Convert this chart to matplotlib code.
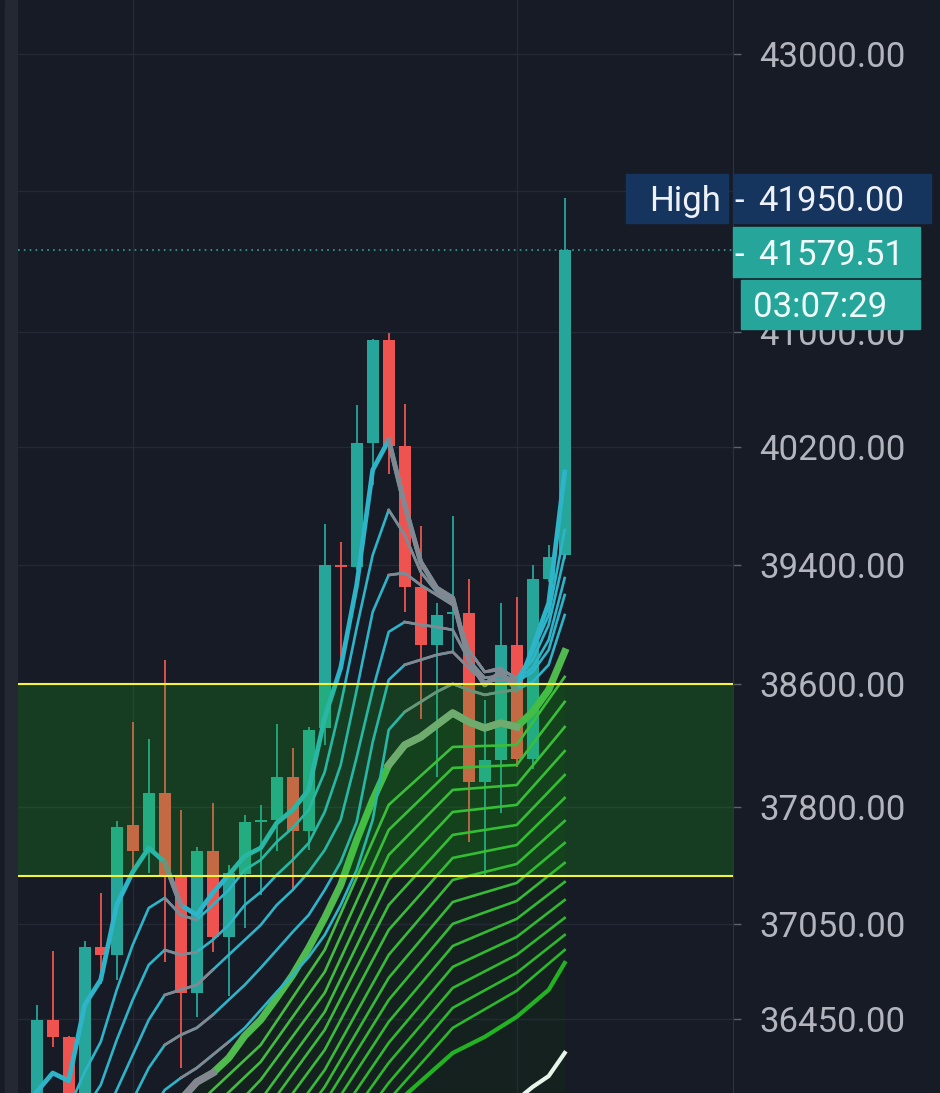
import numpy as np
import matplotlib.pyplot as plt
from matplotlib.patches import Rectangle
from matplotlib.ticker import FixedLocator, FuncFormatter, NullLocator
from matplotlib.transforms import IdentityTransform

plt.rcParams['font.family'] = ['Roboto', 'DejaVu Sans']

# candles, index 0 = leftmost visible bar
opens = [35900, 36443, 36338, 35850, 36904, 36851, 37681, 37515, 37886, 37352,
         36614, 37515, 36963, 37365, 37700, 37713, 37994, 37642, 38310, 39400,
         39383, 40227, 40945, 40210, 39251, 38860, 39070, 39076, 37961, 38103,
         38860, 38107, 39301, 39465]
highs = [36537, 36877, 36345, 36940, 37247, 37709, 38354, 38238, 38761, 37778,
         37541, 37825, 37424, 37745, 37810, 38338, 38179, 38321, 39674, 39554,
         40491, 40953, 40992, 40498, 39661, 39139, 39729, 39301, 38497, 39139,
         39180, 39397, 39532, 41950]
lows = [35850, 36275, 35800, 35800, 36669, 36694, 37392, 37370, 36807, 36143,
        36460, 36872, 36593, 37020, 37232, 37515, 37268, 37520, 38201, 38761,
        39360, 39940, 40016, 39083, 38369, 37994, 38808, 37573, 37359, 37757,
        38059, 38042, 39280, 39440]
closes = [36443, 36338, 35850, 36904, 36851, 37667, 37515, 37886, 37359, 36610,
          37515, 36963, 37370, 37702, 37712, 37994, 37642, 38299, 39397, 39380,
          40227, 40945, 40210, 39251, 38860, 39061, 39080, 37961, 38103, 38860,
          38107, 39301, 39449, 41579.51]

price_ticks = [36450, 37050, 37800, 38600, 39400, 40200, 41000, 42000, 43000]
hidden_tick = 42000   # sits under the "High" tag
high_price = 41950.00
last_price = 41579.51
countdown = "03:07:29"
zone_top = 38600
zone_bottom = 37355

# fast ribbon (cyan)
fast_idx = list(range(34))
ema_fast = [35997, 36114, 36065, 36538, 36695, 37168, 37379, 37533, 37443, 37168,
            37105, 37245, 37360, 37481, 37533, 37694, 37778, 37908, 38379, 38709,
            39262, 40043, 40249, 39804, 39417, 39242, 39175, 38762, 38596, 38682,
            38563, 38841, 39141, 40029]
cyan_1 = [35795, 35856, 35899, 36120, 36307, 36632, 36915, 37149, 37213, 37105,
          37073, 37168, 37264, 37392, 37456, 37572, 37663, 37778, 38025, 38464,
          38975, 39464, 39770, 39600, 39350, 39215, 39148, 38828, 38682, 38709,
          38629, 38815, 39061, 39634]
cyan_2 = [35582, 35643, 35704, 35887, 36040, 36319, 36569, 36789, 36883, 36852,
          36870, 36946, 37041, 37168, 37251, 37360, 37456, 37565, 37765, 38070,
          38563, 39081, 39329, 39343, 39262, 39195, 39128, 38828, 38682, 38696,
          38643, 38762, 38995, 39464]
cyan_34_idx = [0] + list(range(2, 34))
cyan_3 = [35372, 35493, 35643, 35795, 36009, 36226, 36444, 36600, 36632, 36663,
          36757, 36852, 36946, 37041, 37168, 37264, 37379, 37520, 37714, 38122,
          38563, 38948, 39014, 38995, 38981, 38961, 38762, 38643, 38656, 38629,
          38709, 38895, 39309]
cyan_4 = [35163, 35282, 35402, 35552, 35734, 35948, 36145, 36288, 36350, 36394,
          36475, 36569, 36663, 36770, 36883, 36997, 37105, 37264, 37443, 37701,
          38220, 38629, 38729, 38762, 38795, 38815, 38709, 38616, 38629, 38616,
          38682, 38828, 39195]
cyan_5_idx = [0, 3] + list(range(5, 34))
cyan_5 = [34952, 35192, 35462, 35643, 35856, 36009, 36083, 36145, 36226, 36307,
          36394, 36506, 36619, 36726, 36839, 36978, 37168, 37392, 37714, 38300,
          38418, 38484, 38550, 38603, 38563, 38530, 38550, 38563, 38616, 38729,
          39061]

# slow ribbon (green)
main_green_idx = list(range(7, 34))
main_green = [35765, 35856, 35948, 36058, 36114, 36207, 36344, 36444, 36582, 36726,
              36896, 37086, 37296, 37584, 37843, 38070, 38201, 38253, 38332, 38411,
              38352, 38312, 38345, 38319, 38418, 38563, 38815]
green_idx = [10, 14, 18, 22, 26, 30, 33]
green_thin = [
    [35917, 36288, 36883, 37811, 38188, 38201, 38649],
    [35808, 36183, 36745, 37649, 38051, 38070, 38484],
    [35661, 36072, 36613, 37488, 37908, 37940, 38319],
    [35523, 35948, 36494, 37328, 37765, 37811, 38161],
    [35384, 35838, 36382, 37168, 37617, 37681, 38005],
    [35241, 35722, 36257, 37010, 37469, 37552, 37856],
    [35092, 35595, 36133, 36852, 37328, 37430, 37707],
    [34973, 35493, 36028, 36707, 37187, 37309, 37565],
    [34849, 35384, 35930, 36569, 37048, 37194, 37437],
    [34720, 35282, 35826, 36432, 36908, 37080, 37315],
    [34602, 35175, 35722, 36301, 36776, 36965, 37200],
    [34485, 35074, 35625, 36177, 36644, 36852, 37086],
    [34369, 34973, 35523, 36053, 36519, 36739, 36978],
    [34282, 34879, 35432, 35948, 36394, 36626, 36883],
]
slowest_idx = [18, 22, 26, 28, 30, 32, 33]
slowest = [35342, 35887, 36238, 36338, 36463, 36632, 36801]
long_ma_idx = [30, 31, 32, 33]
long_ma = [35948, 36028, 36095, 36238]

bg = '#171b26'
up_col = '#26a69a'
down_col = '#ef5350'
cyan = '#2db4c8'
gray = '#84878f'

fig = plt.figure(figsize=(9.4, 10.93), dpi=100, facecolor=bg)
fig.add_artist(Rectangle((5, 0), 13, 1093, transform=IdentityTransform(),
                         color='#242833', zorder=-1))
ax = fig.add_axes([18 / 940, 0, 715 / 940, 1])
ax.set_facecolor(bg)
ax.set_yscale('log')
ax.set_ylim(35990.5, 43399.5)
ax.set_xlim(-1.17, 43.52)

# faint fill under the main green average
ax.fill_between(main_green_idx, main_green, 35990.5, color='#0f320f', alpha=0.3,
                lw=0, zorder=1)

# candles
x = np.arange(len(opens))
o = np.array(opens)
c = np.array(closes)
cols = [up_col if cc >= oo else down_col for oo, cc in zip(o, c)]
ax.vlines(x, lows, highs, colors=cols, lw=1.3, zorder=2)
ax.bar(x, np.abs(c - o), bottom=np.minimum(o, c), width=0.75, color=cols, zorder=2.1)


def ribbon(idx, vals, color, lw, z, spans=(), span_color=gray):
    ax.plot(idx, vals, color=color, lw=lw, zorder=z, solid_joinstyle='round')
    for a, b in spans:
        sel = [i for i, k in enumerate(idx) if a <= k <= b]
        ax.plot([idx[i] for i in sel], [vals[i] for i in sel], color=span_color,
                lw=lw, zorder=z + 0.01, solid_joinstyle='round')


n = len(green_thin)
for i, vals in enumerate(green_thin):
    t = i / (n - 1)
    col = (0.27 - 0.10 * t, 0.74 - 0.02 * t, 0.27 - 0.10 * t)
    ribbon(green_idx, vals, col, 1.9, 3)
ribbon(slowest_idx, slowest, '#22b322', 3.0, 3)
ribbon(long_ma_idx, long_ma, '#e6f4ea', 3.0, 3)
ribbon(main_green_idx, main_green, '#4fbb4f', 5.2, 3.2, [(9, 11)])
ax.plot([k for k in main_green_idx if 22 <= k <= 30],
        [v for k, v in zip(main_green_idx, main_green) if 22 <= k <= 30],
        color='#86a386', lw=5.2, zorder=3.3)

ribbon(cyan_34_idx, cyan_4, cyan, 1.9, 3.5, [(8, 11), (23, 30)])
ribbon(cyan_5_idx, cyan_5, cyan, 1.9, 3.5, [(9, 12), (23, 30)])
ribbon(cyan_34_idx, cyan_3, cyan, 1.9, 3.5, [(8, 11), (23, 30)])
ribbon(fast_idx, cyan_2, cyan, 1.9, 3.5, [(8, 10), (22, 30)])
ribbon(fast_idx, cyan_1, cyan, 1.9, 3.5, [(8, 10), (22, 30)])
ribbon(fast_idx, ema_fast, cyan, 3.4, 4, [(8, 9), (22, 30)])

# support zone
ax.axhspan(zone_bottom, zone_top, facecolor='#14c814', alpha=0.2, lw=0, zorder=6)
ax.axhline(zone_top, color='#f4f43c', lw=1.5, zorder=7)
ax.axhline(zone_bottom, color='#f4f43c', lw=1.5, zorder=7)
ax.axhline(last_price, color=up_col, lw=1.2, ls=(0, (1, 2.5)), zorder=8)

# axes styling
ax.yaxis.set_major_locator(FixedLocator(price_ticks))
ax.yaxis.set_minor_locator(NullLocator())
ax.yaxis.set_major_formatter(
    FuncFormatter(lambda v, p: '' if round(v) == hidden_tick else f'{v:.2f}'))
ax.yaxis.tick_right()
ax.set_xticks([6, 30])
ax.tick_params(axis='x', length=0, labelbottom=False)
ax.tick_params(axis='y', which='major', length=5.8, width=1, color='#5d616b',
               labelcolor='#b2b5be', labelsize=25, pad=13)
ax.grid(True, color='#242935', lw=1)
for s in ['top', 'left', 'bottom']:
    ax.spines[s].set_visible(False)
ax.spines['right'].set_color('#2e323d')


# price tags on the scale
def ydisp(price):
    return ax.transData.transform((0, price))[1]


ident = IdentityTransform()
yh = ydisp(high_price)
fig.add_artist(Rectangle((626, yh - 24.5), 102, 49, transform=ident, color='#15355f', zorder=10))
fig.add_artist(Rectangle((733, yh - 24.5), 198, 49, transform=ident, color='#15355f', zorder=10))
fig.text(649, yh - 12.5, 'High', transform=ident, color='#eef2f8', fontsize=25, zorder=11)
fig.text(734, yh - 12.5, '-', transform=ident, color='#eef2f8', fontsize=25, zorder=11)
fig.text(758, yh - 12.5, f'{high_price:.2f}', transform=ident, color='#eef2f8',
         fontsize=25, zorder=11)

yl = ydisp(last_price) - 2
fig.add_artist(Rectangle((733, yl - 25), 187, 50, transform=ident, color=up_col, zorder=10))
fig.text(734, yl - 12.5, '-', transform=ident, color='#effcfa', fontsize=25, zorder=11)
fig.text(758, yl - 12.5, f'{last_price:.2f}', transform=ident, color='#effcfa',
         fontsize=25, zorder=11)
yt = yl - 52
fig.add_artist(Rectangle((741, yt - 24.5), 179, 49, transform=ident, color=up_col, zorder=10))
fig.text(753, yt - 12.5, countdown, transform=ident, color='#effcfa', fontsize=25, zorder=11)

fig.savefig('out.png', dpi=100, facecolor=bg)
